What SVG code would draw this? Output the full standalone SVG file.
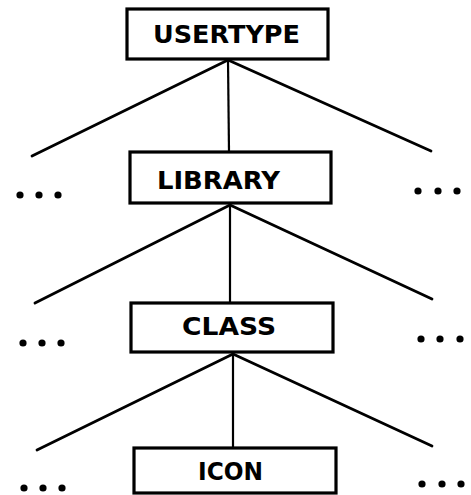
<svg xmlns="http://www.w3.org/2000/svg" width="471" height="495" viewBox="0 0 471 495">
  <style>
    .box { fill: #fff; stroke: #000; stroke-width: 3.2; }
    .lbl { font-family: "DejaVu Sans", "Liberation Sans", Arial, sans-serif; font-weight: bold; font-size: 25px; fill: #000; text-anchor: middle; }
    .edge { stroke: #000; stroke-width: 2.8; fill: none; stroke-linecap: round; }
    .stem { stroke: #000; stroke-width: 2.2; fill: none; }
    .dot { fill: #000; }
  </style>
  <rect width="471" height="495" fill="#fff"/>

  <!-- connectors -->
  <g id="connectors">
    <line class="edge" x1="228" y1="60" x2="32" y2="156"/>
    <line class="edge" x1="228" y1="60" x2="431" y2="151"/>
    <line class="stem" x1="228" y1="60" x2="229" y2="152"/>

    <line class="edge" x1="230" y1="205" x2="35" y2="303"/>
    <line class="edge" x1="230" y1="205" x2="432" y2="299"/>
    <line class="stem" x1="230" y1="205" x2="230" y2="302"/>

    <line class="edge" x1="233" y1="354" x2="37" y2="450"/>
    <line class="edge" x1="233" y1="354" x2="432" y2="446"/>
    <line class="stem" x1="233" y1="354" x2="233" y2="448"/>
  </g>

  <!-- elided siblings -->
  <g id="ellipses">
    <circle class="dot" cx="20" cy="195" r="3.6"/><circle class="dot" cx="39" cy="195" r="3.6"/><circle class="dot" cx="58" cy="195" r="3.6"/>
    <circle class="dot" cx="418" cy="191" r="3.6"/><circle class="dot" cx="438" cy="191" r="3.6"/><circle class="dot" cx="457" cy="191" r="3.6"/>
    <circle class="dot" cx="23" cy="343" r="3.6"/><circle class="dot" cx="42" cy="343" r="3.6"/><circle class="dot" cx="61" cy="343" r="3.6"/>
    <circle class="dot" cx="421" cy="339" r="3.6"/><circle class="dot" cx="440" cy="339" r="3.6"/><circle class="dot" cx="460" cy="339" r="3.6"/>
    <circle class="dot" cx="24" cy="488" r="3.6"/><circle class="dot" cx="43" cy="488" r="3.6"/><circle class="dot" cx="62" cy="488" r="3.6"/>
    <circle class="dot" cx="422" cy="484" r="3.6"/><circle class="dot" cx="442" cy="484" r="3.6"/><circle class="dot" cx="461" cy="484" r="3.6"/>
  </g>

  <g id="usertype">
    <rect class="box" x="127" y="9" width="201" height="50"/>
    <text class="lbl" x="226.5" y="43" textLength="147" lengthAdjust="spacingAndGlyphs">USERTYPE</text>
  </g>

  <g id="library">
    <rect class="box" x="130" y="152" width="201" height="51"/>
    <text class="lbl" x="218.5" y="189" textLength="123" lengthAdjust="spacingAndGlyphs">LIBRARY</text>
  </g>

  <g id="class">
    <rect class="box" x="131" y="303" width="202" height="49"/>
    <text class="lbl" x="229" y="335" textLength="94" lengthAdjust="spacingAndGlyphs">CLASS</text>
  </g>

  <g id="icon">
    <rect class="box" x="134" y="448" width="202" height="45"/>
    <text class="lbl" x="230.5" y="480" textLength="65" lengthAdjust="spacingAndGlyphs">ICON</text>
  </g>
</svg>
